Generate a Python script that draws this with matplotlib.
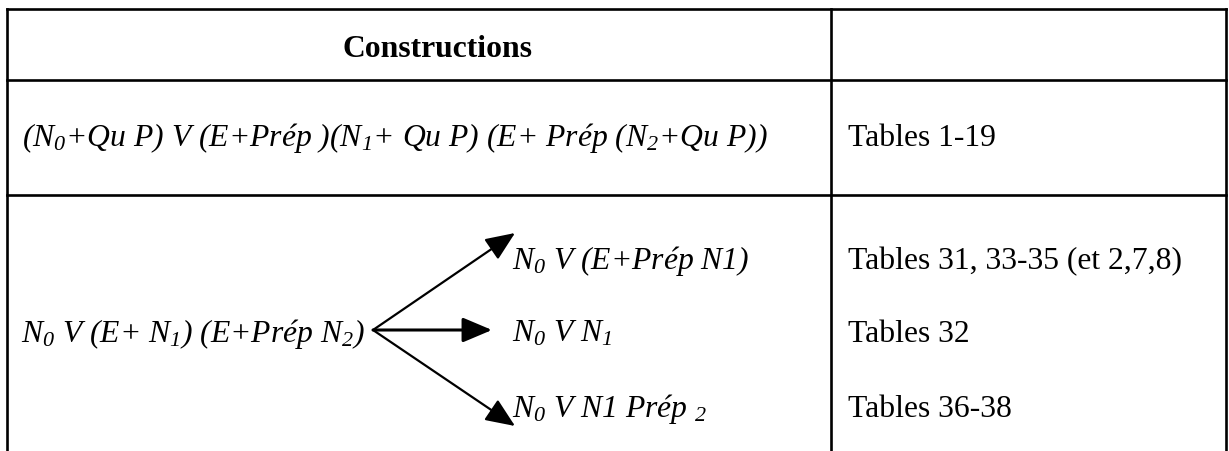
import matplotlib
matplotlib.use("Agg")
import matplotlib.pyplot as plt

plt.rcParams['mathtext.fontset'] = 'custom'
plt.rcParams['mathtext.it'] = 'Liberation Serif:italic'
plt.rcParams['mathtext.rm'] = 'Liberation Serif:italic'
plt.rcParams['mathtext.default'] = 'it'

# ---- table content ----
header = ["Constructions", ""]
row1_construction = r"($N_0$+Qu P) V (E+Prép )($N_1$+ Qu P) (E+ Prép ($N_2$+Qu P))"
row1_tables = "Tables 1-19"
row2_source = r"$N_0$ V (E+ $N_1$) (E+Prép $N_2$)"
row2_branches = [r"$N_0$ V (E+Prép N1)", r"$N_0$ V $N_1$", r"$N_0$ V N1 Prép $_2$"]
row2_tables = ["Tables 31, 33-35 (et 2,7,8)", "Tables 32", "Tables 36-38"]

W, H = 1229, 452
fig = plt.figure(figsize=(W / 100, H / 100), dpi=100)
ax = fig.add_axes([0, 0, 1, 1])
ax.set_xlim(0, W)
ax.set_ylim(H, 0)
ax.axis('off')

FS = 22.8
serif = 'Liberation Serif'
lw = 1.9

# grid lines
x_left, x_div, x_right = 7, 831, 1226
y_top, y_h, y_r1 = 10, 81, 196
for y in (y_top, y_h, y_r1):
    ax.plot([x_left, x_right], [y, y], color='black', lw=lw, solid_capstyle='projecting')
for x in (x_left, x_div, x_right):
    ax.plot([x, x], [y_top, H + 5], color='black', lw=lw, solid_capstyle='projecting')

# header
ax.text(438, 57, header[0], fontsize=FS, family=serif, weight='bold', ha='center', va='baseline')
ax.text(1028, 57, header[1], fontsize=FS, family=serif, weight='bold', ha='center', va='baseline')

# row 1
ax.text(22, 146, row1_construction, fontsize=FS, family=serif, style='italic', ha='left', va='baseline')
ax.text(848, 146, row1_tables, fontsize=FS, family=serif, ha='left', va='baseline')

# row 2
branch_base = [269, 342, 417]
ax.text(21, branch_base[1], row2_source, fontsize=FS, family=serif, style='italic', ha='left', va='baseline')

tips = [(515, 234), (492, 331), (515, 427)]
origin = (373, 331)
for i, (tx, ty) in enumerate(tips):
    ax.annotate('', xy=(tx, ty), xytext=origin,
                arrowprops=dict(arrowstyle='-|>,head_length=0.9,head_width=0.38', color='black',
                                lw=2.2 if i == 1 else 1.6, shrinkA=0, shrinkB=0, mutation_scale=20))
for s, yb in zip(row2_branches, branch_base):
    ax.text(512, yb, s, fontsize=FS, family=serif, style='italic', ha='left', va='baseline')
for s, yb in zip(row2_tables, branch_base):
    ax.text(848, yb, s, fontsize=FS, family=serif, ha='left', va='baseline')

fig.savefig('out.png', dpi=100, facecolor='white')
